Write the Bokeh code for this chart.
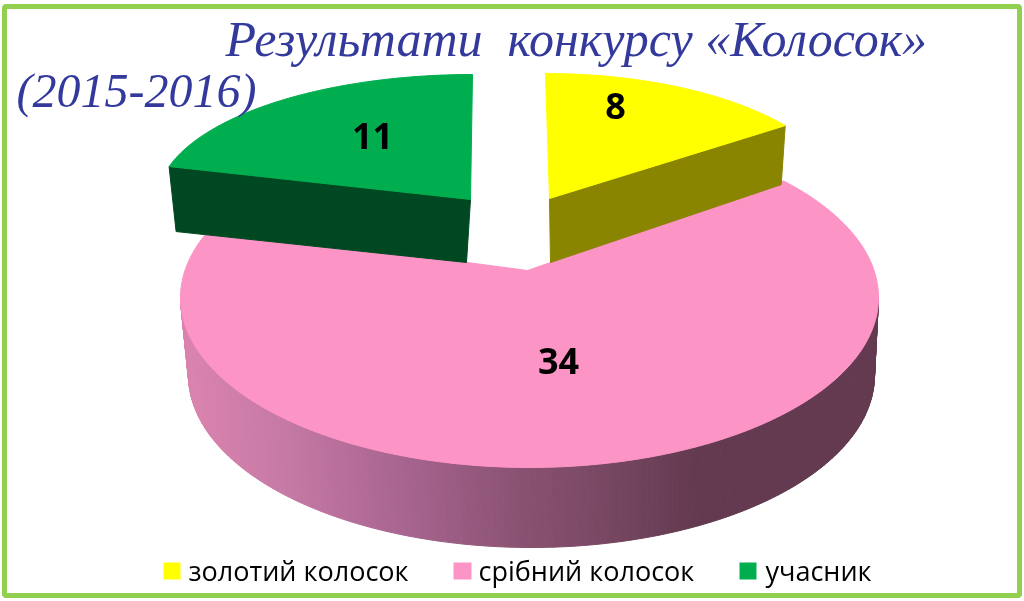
import numpy as np
from bokeh.plotting import figure
from bokeh.embed import file_html
from bokeh.resources import INLINE
from bokeh.core.properties import value

# ---- data ----
categories = ["золотий колосок", "срібний колосок", "учасник"]
values = [8, 34, 11]
top_colors = ["#ffff00", "#fd94c6", "#00ae4f"]
wall_colors = ["#8a8500", None, "#004821"]
title_main = "Результати \u00a0конкурсу «Колосок»"
title_years = "(2015-2016)"

total = sum(values)
edges = np.concatenate([[0.0], np.cumsum(values)]) * 2 * np.pi / total

W, H = 1024, 601
p = figure(width=W, height=H, x_range=(0, W), y_range=(H, 0),
           output_backend="svg", toolbar_location=None,
           min_border=0, outline_line_color=None)
p.axis.visible = False
p.grid.visible = False
p.background_fill_color = "white"
p.styles = {"position": "fixed", "left": "0px", "top": "0px"}


def arc(cx, cy, rx, ry, t0, t1, skew=0.0, n=80):
    t = np.linspace(t0, t1, n)
    dy = -ry * np.cos(t)
    return cx + rx * np.sin(t) + skew * dy, cy + dy


def ray_hit(ax, ay, cx, cy, rx, ry, theta):
    # where the ray from the apex at slice angle theta meets the ellipse
    ox, oy = (ax - cx) / rx, (ay - cy) / ry
    dx, dy = np.sin(theta), -np.cos(theta)
    b = ox * dx + oy * dy
    s = -b + np.sqrt(b * b - (ox * ox + oy * oy - 1))
    return np.arctan2(ox + s * dx, -(oy + s * dy))


# --- pink slice (large, front) ---
cx, cy, rx, ry = 529, 297, 349, 170
ax, ay = 527, 270
t0 = ray_hit(ax, ay, cx, cy, rx, ry, edges[1])
t1 = ray_hit(ax, ay, cx, cy, rx, ry, edges[2]) % (2 * np.pi)

stops_x = [180, 280, 400, 520, 620, 700, 880]
stops_r = [0xdb, 0xc7, 0xa8, 0x8a, 0x75, 0x63, 0x63]
stops_g = [0x84, 0x7a, 0x65, 0x52, 0x46, 0x3a, 0x3a]
stops_b = [0xaf, 0xa6, 0x90, 0x72, 0x60, 0x50, 0x50]
tt = np.linspace(np.pi / 2, 3 * np.pi / 2, 201)
ux, uy = cx + rx * np.sin(tt), cy - ry * np.cos(tt)
lx, ly = 531 + 343 * np.sin(tt), 375 - 172 * np.cos(tt)
xs, ys, cols = [], [], []
for i in range(len(tt) - 1):
    xs.append([ux[i], ux[i + 1], lx[i + 1], lx[i]])
    ys.append([uy[i], uy[i + 1], ly[i + 1], ly[i]])
    m = (ux[i] + ux[i + 1]) / 2
    c = [int(np.interp(m, stops_x, s)) for s in (stops_r, stops_g, stops_b)]
    cols.append("#%02x%02x%02x" % tuple(c))
p.patches(xs, ys, fill_color=cols, line_color=cols, line_width=1)
x, y = arc(cx, cy, rx, ry, t0, t1, n=200)
p.patch(np.r_[ax, x], np.r_[ay, y], fill_color=top_colors[1], line_color=top_colors[1])

# --- green slice (pulled out, back left) ---
ax, ay, rx, ry, sk = 470, 199, 313, 125, -0.016
x, y = arc(ax, ay, rx, ry, edges[2], edges[3], sk)
p.patch([x[0], ax, ax - 4, x[0] + 7], [y[0], ay, ay + 63, y[0] + 65],
        fill_color=wall_colors[2], line_color=wall_colors[2])
p.patch(np.r_[ax, x], np.r_[ay, y], fill_color=top_colors[2], line_color=top_colors[2])

# --- yellow slice (pulled out, back right) ---
ax, ay, rx, ry, sk = 549, 198, 293, 125, 0.032
x, y = arc(ax, ay, rx, ry, edges[0], edges[1], sk)
p.patch([x[-1], ax, ax + 1, x[-1] - 4], [y[-1], ay, ay + 64, y[-1] + 59],
        fill_color=wall_colors[0], line_color=wall_colors[0])
p.patch(np.r_[ax, x], np.r_[ay, y], fill_color=top_colors[0], line_color=top_colors[0])

# --- value labels ---
p.text([615, 558, 372], [105, 360, 135], text=[str(v) for v in values],
       text_font=value("Open Sans"), text_font_style="bold", text_font_size="36px",
       text_color="black", text_align="center", text_baseline="middle")

# --- legend ---
p.quad(left=[163, 453, 739], right=[180, 471, 756], top=[562] * 3, bottom=[579] * 3,
       fill_color=top_colors, line_color=None)
p.text([188, 478, 765], [570] * 3, text=categories, text_font=value("Open Sans"),
       text_font_size="27px", text_color="black", text_align="left", text_baseline="middle")

# --- titles ---
p.text([225], [38], text=[title_main], text_font=value("Liberation Serif"),
       text_font_style="italic", text_font_size="50px", text_color="#333a9c",
       text_align="left", text_baseline="middle")
p.text([16], [90], text=[title_years], text_font=value("Liberation Serif"),
       text_font_style="italic", text_font_size="48px", text_color="#333a9c",
       text_align="left", text_baseline="middle")

# --- frame ---
p.quad(left=[4], right=[1019], top=[6], bottom=[595], fill_color=None,
       line_color="#92d050", line_width=5)

open("out.html", "w").write(file_html(p, INLINE))
